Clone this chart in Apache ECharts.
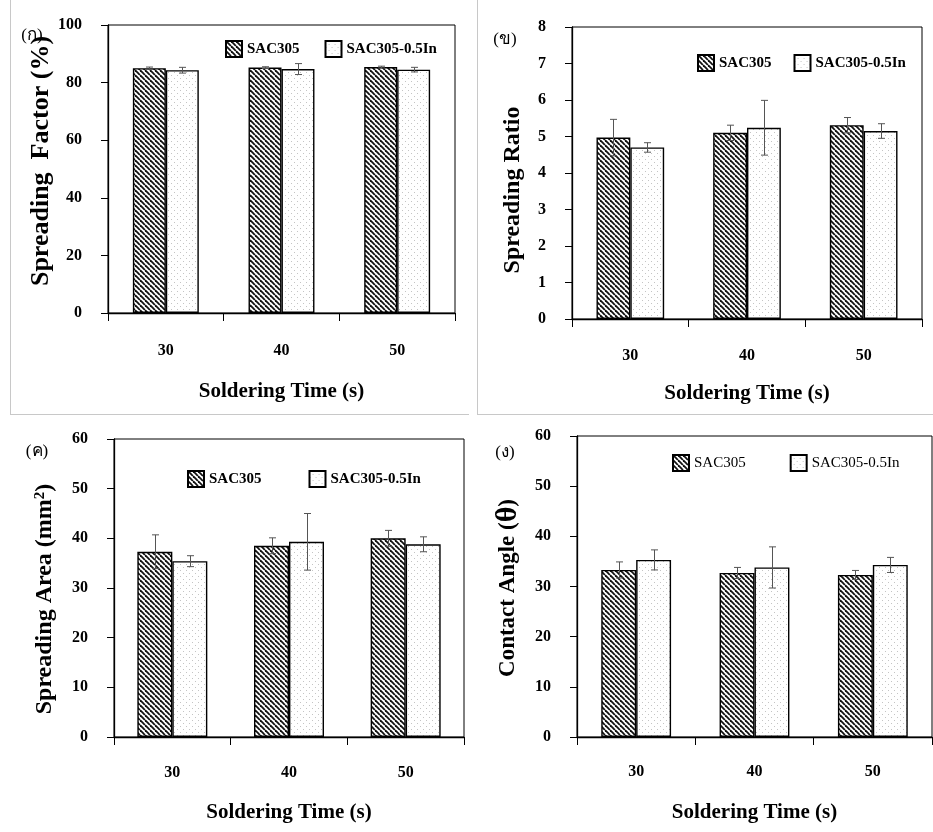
<!DOCTYPE html>
<html><head><meta charset="utf-8">
<script src="https://cdn.jsdelivr.net/npm/echarts@6/dist/echarts.min.js"></script>
<style>html,body{margin:0;padding:0;background:#fff}#c{width:933px;height:832px}</style>
</head><body><div id="c"></div>
<script>
const categories = ['30', '40', '50'];
const seriesNames = ['SAC305', 'SAC305-0.5In'];
const xTitle = 'Soldering Time (s)';
// (ก) Spreading Factor (%)
const factorSAC = [85.0, 85.2, 85.4];
const factorSACErr = [0.4, 0.3, 0.3];
const factorIn = [84.3, 84.7, 84.5];
const factorInErr = [1.0, 1.9, 0.8];
// (ข) Spreading Ratio
const ratioSAC = [4.97, 5.10, 5.31];
const ratioSACErr = [0.50, 0.21, 0.21];
const ratioIn = [4.70, 5.24, 5.15];
const ratioInErr = [0.13, 0.75, 0.20];
// (ค) Spreading Area (mm2)
const areaSAC = [37.3, 38.5, 40.0];
const areaSACErr = [3.4, 1.6, 1.6];
const areaIn = [35.4, 39.3, 38.8];
const areaInErr = [1.1, 5.7, 1.5];
// (ง) Contact Angle
const angleSAC = [33.3, 32.7, 32.3];
const angleSACErr = [1.6, 1.1, 0.9];
const angleIn = [35.3, 33.8, 34.3];
const angleInErr = [2.0, 4.1, 1.5];

const FF = "'Liberation Serif', 'Times New Roman', 'DejaVu Serif', serif";

function hatch() {
  const s = 5, c = document.createElement('canvas');
  c.width = s; c.height = s;
  const g = c.getContext('2d');
  g.fillStyle = '#fff'; g.fillRect(0, 0, s, s);
  g.strokeStyle = '#111'; g.lineWidth = 1.8;
  for (const dx of [-s, 0, s]) { g.beginPath(); g.moveTo(dx, 0); g.lineTo(dx + s, s); g.stroke(); }
  return c;
}
function dots() {
  const c = document.createElement('canvas');
  c.width = 6; c.height = 6;
  const g = c.getContext('2d');
  g.fillStyle = '#fff'; g.fillRect(0, 0, 6, 6);
  g.fillStyle = '#c4c4c4'; g.fillRect(0, 0, 1, 1); g.fillRect(3, 3, 1, 1);
  return c;
}
const hatchFill = { image: hatch(), repeat: 'repeat' };
const dotFill = { image: dots(), repeat: 'repeat' };

const panels = [
  { grid: { left: 108, top: 25, width: 347, height: 288 }, max: 100, interval: 20, gap: 0.43,
    a: factorSAC, ae: factorSACErr, b: factorIn, be: factorInErr, labelMargin: 30, nameGap: 68,
    legend: { left: 220, top: 35, itemGap: 25, bold: true } },
  { grid: { left: 572, top: 27, width: 350, height: 292 }, max: 8, interval: 1, gap: 0.42,
    a: ratioSAC, ae: ratioSACErr, b: ratioIn, be: ratioInErr, labelMargin: 29, nameGap: 64,
    legend: { left: 692, top: 49, itemGap: 22, bold: true } },
  { grid: { left: 114, top: 439, width: 350, height: 298 }, max: 60, interval: 10, gap: 0.40,
    a: areaSAC, ae: areaSACErr, b: areaIn, be: areaInErr, labelMargin: 28, nameGap: 65,
    legend: { left: 182, top: 465, itemGap: 47, bold: true } },
  { grid: { left: 577, top: 436, width: 355, height: 301 }, max: 60, interval: 10, gap: 0.41,
    a: angleSAC, ae: angleSACErr, b: angleIn, be: angleInErr, labelMargin: 27, nameGap: 65,
    legend: { left: 667, top: 449, itemGap: 44, bold: false } }
];

function errSeries(gi, vals, errs, idx, gap) {
  return {
    type: 'custom', xAxisIndex: gi, yAxisIndex: gi, z: 5, silent: true,
    data: vals.map((v, i) => [i, v, errs[i]]),
    renderItem(params, api) {
      const i = api.value(0), v = api.value(1), e = api.value(2);
      const band = api.size([1, 0])[0];
      const bw = band * (1 - gap) / 2;
      const off = idx === 0 ? -bw / 2 : bw / 2;
      const top = api.coord([i, v + e]), bot = api.coord([i, v - e]);
      const x = Math.round(top[0] + off) + 0.5;
      const cap = 3.5;
      const st = { stroke: '#555', lineWidth: 1 };
      return { type: 'group', children: [
        { type: 'line', shape: { x1: x, y1: top[1], x2: x, y2: bot[1] }, style: st },
        { type: 'line', shape: { x1: x - cap, y1: top[1], x2: x + cap, y2: top[1] }, style: st },
        { type: 'line', shape: { x1: x - cap, y1: bot[1], x2: x + cap, y2: bot[1] }, style: st }
      ] };
    }
  };
}

const grids = [], xAxes = [], yAxes = [], series = [], legends = [];
panels.forEach((p, gi) => {
  grids.push(Object.assign({ show: true, borderColor: '#000', borderWidth: 1, backgroundColor: 'transparent' }, p.grid));
  xAxes.push({
    type: 'category', gridIndex: gi, data: categories,
    axisLine: { lineStyle: { color: '#000', width: 1.3 } },
    axisTick: { show: true, length: 8, lineStyle: { color: '#000' } },
    axisLabel: { margin: p.labelMargin, color: '#000', fontFamily: FF, fontWeight: 'bold', fontSize: 16 },
    name: xTitle, nameLocation: 'middle', nameGap: p.nameGap,
    nameTextStyle: { color: '#000', fontFamily: FF, fontWeight: 'bold', fontSize: 21 }
  });
  yAxes.push({
    type: 'value', gridIndex: gi, min: 0, max: p.max, interval: p.interval,
    axisLine: { show: true, lineStyle: { color: '#000', width: 1.3 } },
    axisTick: { show: true, length: 7, lineStyle: { color: '#000' } },
    splitLine: { show: false },
    axisLabel: { margin: 26, color: '#000', fontFamily: FF, fontWeight: 'bold', fontSize: 16 }
  });
  const common = { type: 'bar', xAxisIndex: gi, yAxisIndex: gi, barGap: '0%', barCategoryGap: (p.gap * 100) + '%' };
  series.push(Object.assign({ name: seriesNames[0], data: p.a, itemStyle: { color: hatchFill, borderColor: '#000', borderWidth: 1.4 } }, common));
  series.push(Object.assign({ name: seriesNames[1], data: p.b, itemStyle: { color: dotFill, borderColor: '#000', borderWidth: 1.4 } }, common));
  series.push(errSeries(gi, p.a, p.ae, 0, p.gap));
  series.push(errSeries(gi, p.b, p.be, 1, p.gap));
  legends.push({
    left: p.legend.left, top: p.legend.top, orient: 'horizontal', icon: 'rect',
    itemWidth: 16, itemHeight: 16, itemGap: p.legend.itemGap, selectedMode: false,
    data: seriesNames,
    textStyle: { color: '#000', fontFamily: FF, fontWeight: p.legend.bold ? 'bold' : 'normal', fontSize: 15 }
  });
});

function yTitle(x, y, text, extra) {
  return { type: 'text', x: x, y: y, rotation: Math.PI / 2, silent: true,
    style: Object.assign({ text: text, font: 'bold 24px ' + FF, fill: '#000',
      align: 'center', verticalAlign: 'middle', textAlign: 'center', textVerticalAlign: 'middle' }, extra || {}) };
}
function tag(x, y, text) {
  return { type: 'text', x: x, y: y, silent: true,
    style: { text: text, font: '17px ' + FF, fill: '#000', align: 'center', verticalAlign: 'middle',
      textAlign: 'center', textVerticalAlign: 'middle' } };
}
const frame = { stroke: '#c8c8c8', lineWidth: 1 };
const graphics = [
  { type: 'line', silent: true, shape: { x1: 10.5, y1: 0, x2: 10.5, y2: 414 }, style: frame },
  { type: 'line', silent: true, shape: { x1: 10, y1: 414.5, x2: 469, y2: 414.5 }, style: frame },
  { type: 'line', silent: true, shape: { x1: 477.5, y1: 0, x2: 477.5, y2: 414 }, style: frame },
  { type: 'line', silent: true, shape: { x1: 477, y1: 414.5, x2: 933, y2: 414.5 }, style: frame },
  tag(32, 36, '(ก)'), tag(505, 40, '(ข)'), tag(37, 452, '(ค)'), tag(505, 453, '(ง)'),
  yTitle(41, 161, 'Spreading  Factor (%)', { font: 'bold 26px ' + FF }),
  yTitle(513, 190, 'Spreading Ratio'),
  yTitle(45, 599, 'Spreading Area (mm{s|2})', { rich: { s: { font: 'bold 15px ' + FF, verticalAlign: 'top', fill: '#000' } } }),
  yTitle(508, 588, 'Contact Angle ({t|θ})', { font: 'bold 23px ' + FF, rich: { t: { font: 'bold 30px ' + FF, fill: '#000' } } })
];

const chart = echarts.init(document.getElementById('c'), null, { renderer: 'canvas' });
chart.setOption({
  backgroundColor: '#fff',
  animation: false,
  grid: grids, xAxis: xAxes, yAxis: yAxes, series: series, legend: legends,
  graphic: { elements: graphics }
});
</script></body></html>
